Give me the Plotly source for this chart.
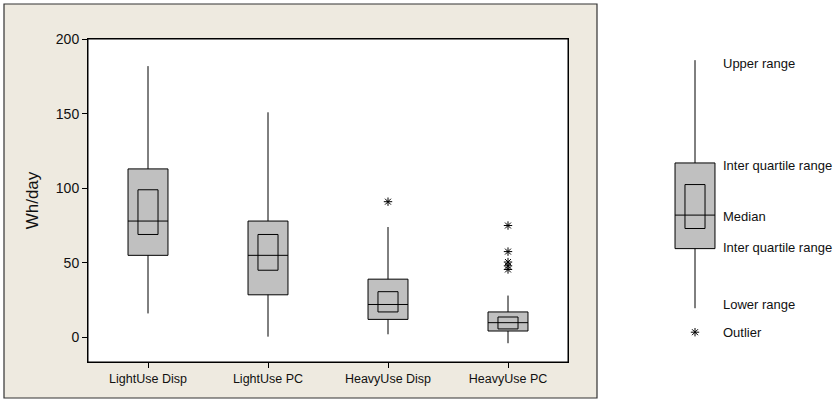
import plotly.graph_objects as go

# ---------------- data ----------------
categories = ["LightUse Disp", "LightUse PC", "HeavyUse Disp", "HeavyUse PC"]
lower_whisker = [16, 0.4, 2, -4]
q1 = [55, 28.5, 12, 4.2]
median = [78, 55, 22, 9.8]
q3 = [113, 78, 39, 17]
upper_whisker = [182, 151, 74, 28]
ci_low = [69, 45, 17, 5.6]
ci_high = [99, 69, 30.6, 13.6]
outlier_cat = [2, 3, 3, 3, 3, 3]
outlier_val = [91, 75, 57.5, 50.5, 48, 45.5]

y_tick_vals = [0, 50, 100, 150, 200]
y_title = "Wh/day"

# explanatory key (sample box)
key_stats = {"lower": 19.5, "q1": 59.5, "ci_low": 73, "median": 82,
             "ci_high": 102.5, "q3": 117, "upper": 186, "outlier": 3.4}
key_labels = ["Upper range", "Inter quartile range", "Median",
              "Inter quartile range", "Lower range", "Outlier"]
key_label_y = [184, 115.5, 81, 60.5, 22, 3.4]

# ---------------- style ----------------
W, H = 836, 400
ML, MR, MT, MB = 88, 0, 39, 38
FONT = "Liberation Sans, Arial, sans-serif"
BOX_FILL = "#c0c0c0"
BEIGE = "#eeeae0"


def px_x(p):
    return (p - ML) / (W - ML - MR)


def px_y(p):
    return (H - MB - p) / (H - MT - MB)


fig = go.Figure()
xs = list(range(len(categories)))

for i in xs:
    fig.add_trace(go.Box(
        x=[i], q1=[q1[i]], median=[median[i]], q3=[q3[i]],
        lowerfence=[lower_whisker[i]], upperfence=[upper_whisker[i]],
        width=0.333, whiskerwidth=0, fillcolor=BOX_FILL,
        line=dict(color="black", width=1), boxpoints=False,
        xaxis="x", yaxis="y", hoverinfo="skip", showlegend=False))
    fig.add_trace(go.Box(
        x=[i], q1=[ci_low[i]], median=[median[i]], q3=[ci_high[i]],
        lowerfence=[ci_low[i]], upperfence=[ci_high[i]],
        width=0.167, whiskerwidth=0, fillcolor=BOX_FILL,
        line=dict(color="black", width=1), boxpoints=False,
        xaxis="x", yaxis="y", hoverinfo="skip", showlegend=False))

fig.add_trace(go.Scatter(
    x=outlier_cat, y=outlier_val, mode="markers",
    marker=dict(symbol="asterisk-open", size=7, color="black",
                line=dict(color="black", width=1)),
    xaxis="x", yaxis="y", hoverinfo="skip", showlegend=False))

# key box on second x axis
ks = key_stats
fig.add_trace(go.Box(
    x=[0], q1=[ks["q1"]], median=[ks["median"]], q3=[ks["q3"]],
    lowerfence=[ks["lower"]], upperfence=[ks["upper"]],
    width=0.333, whiskerwidth=0, fillcolor=BOX_FILL,
    line=dict(color="black", width=1), boxpoints=False,
    xaxis="x2", yaxis="y", hoverinfo="skip", showlegend=False))
fig.add_trace(go.Box(
    x=[0], q1=[ks["ci_low"]], median=[ks["median"]], q3=[ks["ci_high"]],
    lowerfence=[ks["ci_low"]], upperfence=[ks["ci_high"]],
    width=0.167, whiskerwidth=0, fillcolor=BOX_FILL,
    line=dict(color="black", width=1), boxpoints=False,
    xaxis="x2", yaxis="y", hoverinfo="skip", showlegend=False))
fig.add_trace(go.Scatter(
    x=[0], y=[ks["outlier"]], mode="markers",
    marker=dict(symbol="asterisk-open", size=7, color="black",
                line=dict(color="black", width=1)),
    xaxis="x2", yaxis="y", hoverinfo="skip", showlegend=False))

for lab, yv in zip(key_labels, key_label_y):
    fig.add_annotation(x=0.215, y=yv, xref="x2", yref="y", text=lab,
                       showarrow=False, xanchor="left", yanchor="middle",
                       font=dict(family=FONT, size=13, color="#111"))

# frame and plot-area background
fig.add_shape(type="rect", xref="paper", yref="paper",
              x0=px_x(4), x1=px_x(597), y0=px_y(398), y1=px_y(4),
              fillcolor=BEIGE, line=dict(color="#333", width=1.2), layer="below")
fig.add_shape(type="rect", xref="x domain", yref="y domain",
              x0=0, x1=1, y0=0, y1=1,
              fillcolor="white", line=dict(color="black", width=1), layer="below")

plot_w = 480
fig.update_layout(
    width=W, height=H,
    margin=dict(l=ML, r=MR, t=MT, b=MB),
    paper_bgcolor="white", plot_bgcolor="white",
    boxmode="overlay", showlegend=False,
    font=dict(family=FONT, color="#111"),
    xaxis=dict(domain=[0, plot_w / (W - ML - MR)], range=[-0.5, 3.5],
               tickvals=xs, ticktext=categories, ticks="outside", ticklen=5,
               tickcolor="black", showgrid=False, zeroline=False,
               showline=True, linecolor="black", mirror=True, linewidth=1,
               tickfont=dict(size=12.5, family=FONT, color="#111"),
               fixedrange=True),
    xaxis2=dict(domain=[px_x(635), px_x(745)], range=[-0.5, 0.4167],
                anchor="y", visible=False, fixedrange=True),
    yaxis=dict(range=[-16.6, 200.2], tickvals=y_tick_vals, ticks="outside",
               ticklen=5, tickcolor="black", showgrid=False, zeroline=False,
               showline=True, linecolor="black", mirror=True, linewidth=1,
               tickfont=dict(size=14, family=FONT, color="#111"),
               title=dict(text=y_title, font=dict(size=17, family=FONT, color="#111"),
                          standoff=12),
               anchor="x", fixedrange=True),
)

fig.write_html("out.html", config={"displayModeBar": False},
               post_script="document.body.style.margin='0px';")
